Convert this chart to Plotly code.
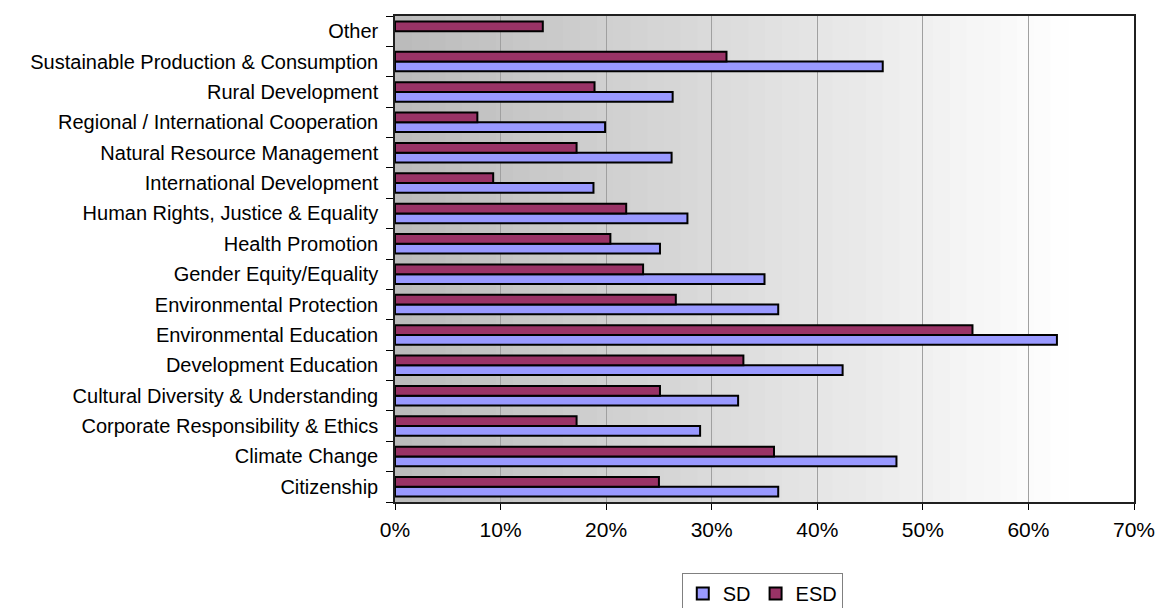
import plotly.graph_objects as go

categories = [
    "Citizenship",
    "Climate Change",
    "Corporate Responsibility & Ethics",
    "Cultural Diversity & Understanding",
    "Development Education",
    "Environmental Education",
    "Environmental Protection",
    "Gender Equity/Equality",
    "Health Promotion",
    "Human Rights, Justice & Equality",
    "International Development",
    "Natural Resource Management",
    "Regional / International Cooperation",
    "Rural Development",
    "Sustainable Production & Consumption",
    "Other",
]

sd_values = [0.363, 0.475, 0.289, 0.325, 0.424, 0.627, 0.363, 0.350, 0.251,
             0.277, 0.188, 0.262, 0.199, 0.263, 0.462, None]
esd_values = [0.250, 0.359, 0.172, 0.251, 0.330, 0.547, 0.266, 0.235, 0.204,
              0.219, 0.093, 0.172, 0.078, 0.189, 0.314, 0.140]

x_ticks = [0, 0.1, 0.2, 0.3, 0.4, 0.5, 0.6, 0.7]
x_tick_labels = ["0%", "10%", "20%", "30%", "40%", "50%", "60%", "70%"]

FONT = "Liberation Sans, Arial, sans-serif"

fig = go.Figure()
fig.add_trace(go.Bar(
    y=categories, x=sd_values, name="SD", orientation="h",
    marker=dict(color="#9999FF", line=dict(color="#000000", width=2)),
    hoverinfo="skip",
))
fig.add_trace(go.Bar(
    y=categories, x=esd_values, name="ESD", orientation="h",
    marker=dict(color="#993366", line=dict(color="#000000", width=2)),
    hoverinfo="skip",
))

# stepped gradient background (grey at left to white at right)
N = 40
stop = 0.91
c0 = 0xBA
shapes = []
for i in range(N):
    x0 = i * stop / N
    x1 = (i + 1) * stop / N
    t = (i + 0.5) / N
    v = int(round(c0 + (255 - c0) * t))
    shapes.append(dict(type="rect", xref="x domain", yref="y domain",
                       x0=x0, x1=x1 + 0.002, y0=0, y1=1, layer="below",
                       fillcolor=f"rgb({v},{v},{v})", line=dict(width=0)))

fig.update_layout(
    width=1160, height=608,
    margin=dict(l=395, r=26, t=16, b=106, autoexpand=False),
    paper_bgcolor="white",
    plot_bgcolor="white",
    barmode="group",
    bargap=0.36,
    bargroupgap=0,
    shapes=shapes,
    font=dict(family=FONT, color="black"),
    legend=dict(
        orientation="h", x=0.497, xanchor="center", y=-0.146, yanchor="top",
        bordercolor="#808080", borderwidth=1, font=dict(size=20, family=FONT),
        traceorder="normal", itemwidth=30,
    ),
    showlegend=True,
)

fig.update_xaxes(
    range=[0, 0.7], tickvals=x_ticks, ticktext=x_tick_labels,
    showgrid=True, gridcolor="#a0a0a0", gridwidth=1,
    showline=True, linecolor="#202020", linewidth=1.5, mirror=True,
    ticks="outside", ticklen=6, tickcolor="#000000", ticklabelstandoff=2,
    tickfont=dict(size=21, family=FONT, color="black"),
    zeroline=False, fixedrange=True, automargin=False,
)
fig.update_yaxes(
    categoryorder="array", categoryarray=categories,
    showline=True, linecolor="#202020", linewidth=1.5, mirror=True,
    ticks="outside", ticklen=7, tickcolor="#000000", tickson="boundaries",
    ticklabelstandoff=11,
    tickfont=dict(size=20, family=FONT, color="black"),
    showgrid=False, fixedrange=True, automargin=False,
)

fig.write_html("out.html")
